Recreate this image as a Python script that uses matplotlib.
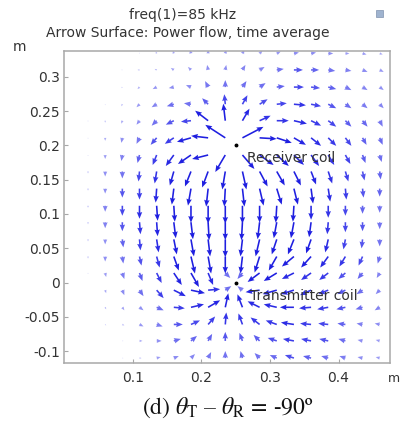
import numpy as np
import matplotlib
matplotlib.use("Agg")
import matplotlib.pyplot as plt
from matplotlib.colors import LinearSegmentedColormap, Normalize
from matplotlib.patches import Rectangle

plt.rcParams['axes.unicode_minus'] = False
plt.rcParams['mathtext.fontset'] = 'stix'

# ---- data -------------------------------------------------------------
col_x = [0.035, 0.06, 0.085, 0.11, 0.135, 0.16, 0.185, 0.21, 0.235,
         0.26, 0.285, 0.31, 0.335, 0.36, 0.385, 0.41, 0.435, 0.46]
row_y = [-0.110, -0.085, -0.061, -0.036, -0.011, 0.014, 0.038, 0.063, 0.088,
         0.112, 0.137, 0.162, 0.186, 0.211, 0.236, 0.260, 0.285, 0.310, 0.334]

# arrow vectors (right, up), one list per row (bottom -> top)
r00 = [(0,0),(0,0),(1,0),(2,0),(4,1),(5,2),(4,4),(3,6),(0,7),(-2,7),(-5,5),(-7,3),(-9,3),(-8,2),(-7,2),(-6,2),(-5,1),(-4,1)]
r01 = [(0,0),(0,0),(1,0),(3,0),(5,0),(7,2),(6,5),(4,7),(0,9),(-3,8),(-6,6),(-9,3),(-11,2),(-10,2),(-9,2),(-7,2),(-5,1),(-4,1)]
r02 = [(0,0),(1,-1),(2,-1),(4,-2),(6,-2),(9,0),(9,4),(7,8),(1,12),(-4,11),(-9,7),(-11,4),(-13,2),(-11,1),(-10,1),(-8,1),(-6,1),(-5,1)]
r03 = [(0,0),(1,-2),(2,-3),(4,-3),(7,-3),(11,-1),(13,3),(12,7),(3,14),(-5,13),(-12,6),(-13,3),(-14,0),(-12,-1),(-11,-2),(-9,-2),(-7,-2),(-5,-3)]
r04 = [(0,0),(1,-3),(2,-5),(4,-6),(7,-8),(12,-6),(14,-3),(12,1),(6,4),(-5,4),(-14,-2),(-14,-4),(-13,-4),(-11,-5),(-10,-4),(-8,-4),(-6,-4),(-4,-4)]
r05 = [(0,-1),(1,-4),(2,-6),(3,-8),(5,-10),(8,-12),(8,-14),(5,-12),(5,-5),(-5,-6),(-12,-9),(-13,-8),(-12,-6),(-10,-7),(-9,-7),(-7,-6),(-5,-6),(-3,-5)]
r06 = [(0,-2),(0,-5),(1,-7),(2,-9),(3,-11),(5,-14),(4,-17),(3,-17),(0,-17),(-2,-17),(-5,-16),(-8,-14),(-12,-10),(-10,-11),(-8,-11),(-6,-10),(-4,-9),(-2,-7)]
r07 = [(0,-2),(0,-5),(1,-8),(1,-11),(2,-13),(3,-15),(3,-17),(2,-17),(0,-18),(-2,-17),(-4,-17),(-5,-15),(-6,-15),(-5,-14),(-3,-13),(-2,-10),(-1,-9),(0,-7)]
r08 = [(0,-2),(0,-6),(0,-9),(1,-12),(1,-14),(2,-16),(2,-17),(1,-18),(0,-18),(-1,-18),(-2,-17),(-3,-16),(-3,-16),(-2,-15),(-1,-12),(0,-10),(0,-9),(0,-7)]
r09 = [(0,-2),(0,-6),(0,-10),(0,-13),(1,-15),(1,-16),(0,-17),(0,-18),(0,-18),(0,-18),(0,-17),(-1,-17),(-1,-16),(0,-14),(0,-12),(0,-10),(0,-8),(0,-7)]
r10 = [(0,-2),(0,-5),(0,-9),(0,-11),(-1,-14),(-2,-16),(-3,-17),(-2,-18),(-1,-18),(2,-18),(4,-17),(5,-16),(4,-16),(2,-15),(2,-13),(1,-11),(1,-9),(0,-8)]
r11 = [(0,-2),(0,-5),(0,-7),(-1,-10),(-2,-12),(-4,-14),(-6,-15),(-6,-16),(-3,-18),(4,-18),(8,-15),(8,-14),(7,-14),(5,-13),(4,-12),(3,-10),(2,-9),(1,-8)]
r12 = [(0,-1),(0,-4),(-1,-6),(-2,-8),(-4,-10),(-8,-11),(-13,-9),(-16,-4),(-10,-17),(12,-14),(14,-10),(12,-11),(10,-10),(8,-11),(6,-10),(5,-9),(3,-8),(2,-7)]
r13 = [(0,-1),(0,-3),(-1,-5),(-3,-6),(-6,-7),(-9,-6),(-14,-4),(-17,2),(-20,13),(21,11),(17,-1),(15,-5),(12,-7),(10,-8),(8,-8),(6,-8),(4,-7),(3,-7)]
r14 = [(0,-1),(0,-2),(-1,-3),(-3,-4),(-5,-5),(-8,-4),(-10,-1),(-13,10),(-2,17),(7,12),(11,5),(12,0),(13,-3),(10,-5),(8,-6),(6,-6),(5,-6),(3,-6)]
r15 = [(0,0),(0,-1),(-1,-2),(-3,-3),(-5,-3),(-7,-2),(-7,1),(-6,6),(-1,10),(5,9),(8,5),(10,1),(12,-1),(10,-2),(8,-4),(6,-4),(5,-4),(4,-4)]
r16 = [(0,0),(0,0),(-1,-1),(-2,-2),(-4,-2),(-5,-1),(-5,2),(-3,6),(0,7),(4,6),(6,4),(8,1),(10,0),(9,-1),(8,-2),(6,-3),(5,-3),(4,-3)]
r17 = [(0,0),(0,0),(-1,0),(-2,0),(-2,1),(-3,2),(-3,3),(-1,5),(1,5),(3,5),(5,3),(7,1),(9,0),(8,0),(7,-1),(6,-1),(5,-2),(4,-2)]
r18 = [(0,0),(0,0),(0,0),(0,1),(-1,2),(-1,3),(-1,4),(0,4),(1,4),(2,4),(3,3),(4,2),(5,1),(5,1),(5,0),(4,0),(4,-1),(3,-1)]

rows = [r00, r01, r02, r03, r04, r05, r06, r07, r08, r09,
        r10, r11, r12, r13, r14, r15, r16, r17, r18]

coil_x = [0.25, 0.25]
coil_y = [0.2, 0.0]
coil_names = ["Receiver coil", "Transmitter coil"]

xticks = [0.1, 0.2, 0.3, 0.4]
yticks = [-0.1, -0.05, 0, 0.05, 0.1, 0.15, 0.2, 0.25, 0.3]
ytick_labels = ["-0.1", "-0.05", "0", "0.05", "0.1", "0.15", "0.2", "0.25", "0.3"]
xtick_labels = ["0.1", "0.2", "0.3", "0.4"]

# ---- figure -----------------------------------------------------------
W, H = 400, 433
fig = plt.figure(figsize=(W / 100, H / 100), dpi=100)
ax = fig.add_axes([64 / W, 1 - 363 / H, 326 / W, 312 / H])
ax.set_xlim(0.0, 0.475)
ax.set_ylim(-0.1172, 0.3376)

X, Y, U, V = [], [], [], []
for j, row in enumerate(rows):
    for i, (u, v) in enumerate(row):
        if u == 0 and v == 0:
            continue
        X.append(col_x[i]); Y.append(row_y[j]); U.append(u); V.append(v)
X = np.array(X); Y = np.array(Y); U = np.array(U, float); V = np.array(V, float)
M = np.hypot(U, V)

cmap = LinearSegmentedColormap.from_list(
    "arr", [(0.0, (0.82, 0.82, 0.98)), (0.35, (0.55, 0.55, 0.95)),
            (0.7, (0.25, 0.25, 0.92)), (1.0, (0.12, 0.12, 0.88))])
px_per_m = 312 / (0.3376 + 0.1172)
ax.quiver(X, Y, U, V, M, cmap=cmap, norm=Normalize(0, 15),
          angles='xy', scale_units='xy', scale=px_per_m, pivot='tail',
          units='dots', width=1.6, headwidth=3.4, headlength=4.2,
          headaxislength=3.8, minlength=0.3, zorder=2)

ax.plot(coil_x, coil_y, 'o', color='black', ms=1.8, zorder=3)
ax.text(0.267, 0.181, coil_names[0], fontsize=10, color='#333333',
        va='center', ha='left', zorder=4)
ax.text(0.271, -0.019, coil_names[1], fontsize=10, color='#333333',
        va='center', ha='left', zorder=4)

for s in ax.spines.values():
    s.set_color('#a8a8a8')
    s.set_linewidth(1.1)
ax.set_xticks(xticks)
ax.set_xticklabels(xtick_labels)
ax.set_yticks(yticks)
ax.set_yticklabels(ytick_labels)
ax.tick_params(axis='both', direction='in', length=3, color='#a8a8a8',
               labelsize=10, labelcolor='#333333')
ax.tick_params(axis='x', pad=6)
ax.tick_params(axis='y', pad=3)

fig.text(183 / W, 1 - 15 / H, "freq(1)=85 kHz", ha='center', va='center',
         fontsize=10, color='#333333')
fig.text(188 / W, 1 - 33 / H, "Arrow Surface: Power flow, time average",
         ha='center', va='center', fontsize=10, color='#333333')
fig.text(20 / W, 1 - 47 / H, "m", ha='center', va='center', fontsize=10,
         color='#333333')
fig.text(388 / W, 1 - 378 / H, "m", ha='left', va='center', fontsize=9,
         color='#333333')
fig.text(228 / W, 1 - 408 / H,
         r"(d) $\theta_{\mathrm{T}}$ – $\theta_{\mathrm{R}}$ = -90º",
         ha='center', va='center', fontsize=17, family='STIXGeneral',
         color='#111111')
fig.patches.append(Rectangle((376 / W, 1 - 17 / H), 7 / W, 7 / H,
                             transform=fig.transFigure, facecolor='#9fb3cf',
                             edgecolor='#7f93af', lw=0.5))

fig.savefig("out.png", dpi=100)
